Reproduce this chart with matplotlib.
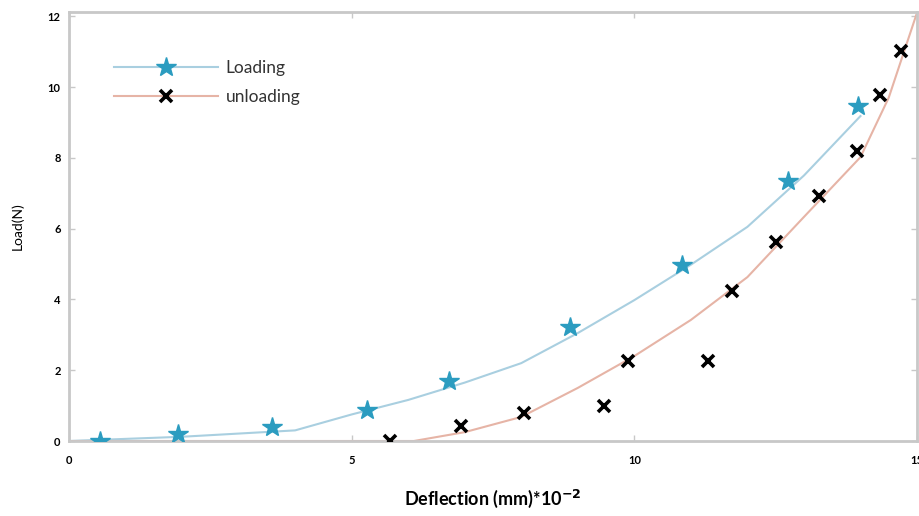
import numpy as np
import matplotlib.pyplot as plt
from matplotlib.lines import Line2D

plt.rcParams['font.family'] = ['Lato', 'DejaVu Sans']

# measured points
load_x = [0.55, 1.92, 3.59, 5.28, 6.73, 8.87, 10.85, 12.71, 13.96]
load_y = [0.0, 0.2, 0.4, 0.88, 1.69, 3.22, 4.97, 7.34, 9.46]
unload_x = [5.67, 6.94, 8.05, 9.47, 9.89, 11.3, 11.73, 12.5, 13.26, 13.94, 14.35, 14.72]
unload_y = [0.0, 0.42, 0.79, 0.99, 2.26, 2.26, 4.24, 5.62, 6.92, 8.19, 9.77, 11.02]

# fitted curves
load_fit_x = [0, 2, 4, 5, 6, 7, 8, 9, 10, 11, 12, 13, 14]
load_fit_y = [0.0, 0.12, 0.3, 0.75, 1.16, 1.65, 2.2, 3.05, 3.98, 4.98, 6.05, 7.5, 9.18]
unload_fit_x = [0, 6.1, 7, 8, 9, 10, 11, 12, 13, 14, 14.5, 15]
unload_fit_y = [0.0, 0.0, 0.25, 0.68, 1.5, 2.4, 3.42, 4.63, 6.33, 8.02, 9.7, 12.1]

blue_line = '#a9cfe0'
star_col = '#2b9cc0'
red_line = '#e6b4a6'

fig = plt.figure(figsize=(9.19, 5.16), dpi=100)
ax = fig.add_axes([69/919, 75/516, 848/919, 429/516])

ax.plot(load_fit_x, load_fit_y, color=blue_line, lw=1.5, zorder=2)
ax.plot(unload_fit_x, unload_fit_y, color=red_line, lw=1.5, zorder=2)
ax.plot(load_x, load_y, ls='none', marker='*', ms=15, color=star_col, zorder=3)
ax.plot(unload_x, unload_y, ls='none', marker='x', ms=8, mew=2.6, color='black', zorder=3)

ax.set_xlim(0, 14.93)
ax.set_ylim(0, 12.12)
ax.set_xticks([0, 5, 10, 15])
ax.set_yticks([0, 2, 4, 6, 8, 10, 12])
ax.tick_params(direction='in', length=4, width=1, color='#c8c8c8',
               top=True, right=True, labelsize=8, pad=6)
ax.tick_params(axis='x', pad=10)
for lab in ax.get_xticklabels() + ax.get_yticklabels():
    lab.set_fontweight('bold')
for sp in ax.spines.values():
    sp.set_color('#c8c8c8')
    sp.set_linewidth(2)

ax.set_xlabel('Deflection (mm)*10$^{\\mathbf{-2}}$', fontsize=13, fontweight='bold', labelpad=16)
ax.set_ylabel('Load(N)', fontsize=10, labelpad=17)

handles = [Line2D([], [], color=blue_line, lw=1.5, marker='*', ms=15, mfc=star_col, mec=star_col),
           Line2D([], [], color=red_line, lw=1.5, marker='x', ms=8, mew=2.6, mec='black')]
ax.legend(handles, ['Loading', 'unloading'], loc='upper left', bbox_to_anchor=(0.035, 0.925),
          frameon=False, fontsize=12.5, handlelength=6.0, labelspacing=0.75, handletextpad=0.4,
          labelcolor='#333333')

plt.savefig('out.png', dpi=100)
